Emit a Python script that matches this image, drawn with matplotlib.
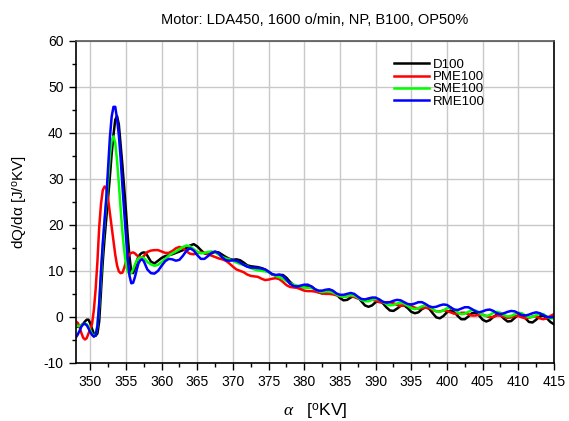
import numpy as np
import matplotlib
matplotlib.use("Agg")
import matplotlib.pyplot as plt
from matplotlib.ticker import MultipleLocator

plt.rcParams["font.family"] = ["Liberation Sans", "DejaVu Sans"]
plt.rcParams["axes.unicode_minus"] = False
plt.rcParams["mathtext.fontset"] = "custom"
plt.rcParams["mathtext.rm"] = "Liberation Sans"
plt.rcParams["mathtext.it"] = "Liberation Serif:italic"

# crank angle samples: fine steps through the combustion peak, coarser after
angle = np.concatenate([np.arange(348.0, 358.01, 0.25), np.arange(358.5, 415.01, 0.5)])

d100 = [
    -2.2, -2.1, -2.0, -1.8, -1.5, -1.0, -0.6, -0.6, -1.4, -2.6, -3.6, -4.1, -3.6, -1.0,
    5.5, 12.0, 17.0, 21.5, 26.0, 30.5, 35.5, 39.5, 42.8, 43.6, 41.8, 37.5, 33.0, 28.0,
    23.0, 17.5, 13.0, 9.8, 9.5, 10.6, 12.0, 13.1, 13.6, 13.9, 14.0, 13.9, 13.3,
    12.0, 11.6, 12.2, 12.8, 13.2, 13.4, 13.6, 13.9, 14.2, 14.5, 15.0, 15.5, 15.8, 15.3,
    14.5, 13.8, 13.6, 13.8, 14.1, 14.0, 13.5, 13.0, 12.6, 12.4, 12.5, 12.3, 11.8, 11.2,
    11.0, 10.9, 10.8, 10.6, 10.3, 9.8, 9.2, 9.0, 9.1, 9.1, 8.5, 7.6, 6.9, 6.5, 6.4,
    6.5, 6.7, 6.6, 6.0, 5.4, 5.1, 5.3, 5.7, 5.6, 4.9, 4.1, 3.6, 3.7, 4.2, 4.6, 4.3,
    3.4, 2.5, 2.2, 2.5, 3.2, 3.5, 3.0, 2.1, 1.4, 1.3, 1.8, 2.4, 2.5, 1.9, 1.1, 0.8,
    1.0, 1.7, 2.1, 1.8, 0.8, -0.1, -0.3, 0.2, 1.0, 1.4, 1.1, 0.2, -0.5, -0.5, 0.1, 0.8,
    0.9, 0.3, -0.6, -1.0, -0.7, 0.0, 0.5, 0.4, -0.4, -1.0, -0.9, -0.2, 0.4, 0.4, -0.3,
    -1.1, -1.2, -0.6, 0.1, 0.3, -0.3, -1.1, -1.6,
]
pme100 = [
    -1.0, -1.3, -2.2, -3.5, -4.5, -4.9, -4.6, -3.6, -2.6, -1.5, 1.5, 6.0, 12.0, 19.5,
    24.5, 27.5, 28.3, 28.0, 25.5, 22.5, 19.5, 16.5, 13.5, 11.2, 9.9, 9.5, 9.6, 10.6,
    12.0, 13.0, 13.6, 13.9, 14.0, 13.8, 13.4, 13.1, 12.9, 12.9, 13.2, 13.7, 14.1,
    14.4, 14.5, 14.5, 14.2, 13.9, 13.9, 14.3, 14.9, 15.2, 14.9, 14.2, 13.7, 13.6, 13.8,
    14.0, 13.9, 13.6, 13.3, 13.0, 12.7, 12.5, 12.2, 11.6, 10.9, 10.3, 10.0, 9.7, 9.2,
    8.9, 8.8, 8.7, 8.3, 8.0, 8.1, 8.3, 8.4, 8.2, 7.6, 6.9, 6.5, 6.4, 6.3, 6.0,
    5.7, 5.6, 5.6, 5.5, 5.3, 5.1, 5.0, 5.0, 4.9, 4.7, 4.5, 4.4, 4.5, 4.5, 4.3, 4.0,
    3.8, 3.8, 3.9, 3.8, 3.5, 3.2, 3.1, 3.2, 3.2, 3.0, 2.6, 2.4, 2.5, 2.6, 2.4, 2.0,
    1.8, 1.9, 2.0, 1.9, 1.5, 1.2, 1.2, 1.4, 1.3, 1.0, 0.7, 0.7, 0.9, 0.9, 0.6, 0.3,
    0.3, 0.5, 0.5, 0.2, -0.1, 0.0, 0.3, 0.3, 0.0, -0.2, -0.1, 0.2, 0.2, -0.1, -0.3,
    -0.2, 0.1, 0.1, -0.3, -0.5, -0.3, 0.2, 0.6,
]
sme100 = [
    -2.0, -2.0, -1.9, -1.8, -1.6, -1.5, -1.6, -2.1, -2.9, -3.7, -4.1, -3.9, -1.8, 2.5,
    9.0, 15.5, 20.5, 25.0, 30.0, 35.0, 38.3, 39.2, 37.8, 34.0, 29.0, 23.5, 18.5, 14.5,
    11.5, 9.8, 9.3, 9.5, 10.3, 11.3, 12.2, 12.7, 12.9, 12.9, 12.8, 12.4, 11.9,
    11.4, 11.1, 11.3, 11.9, 12.6, 13.3, 13.8, 14.2, 14.7, 15.2, 15.5, 15.3, 14.7, 14.1,
    13.8, 13.9, 14.1, 14.2, 14.0, 13.5, 13.0, 12.7, 12.5, 12.2, 11.8, 11.5, 11.3, 11.0,
    10.6, 10.3, 10.1, 10.0, 9.9, 9.7, 9.3, 8.9, 8.6, 8.3, 7.8, 7.3, 7.0, 6.8, 6.6,
    6.4, 6.3, 6.3, 6.0, 5.6, 5.4, 5.5, 5.5, 5.3, 4.9, 4.5, 4.4, 4.5, 4.7, 4.6, 4.2,
    3.7, 3.4, 3.4, 3.7, 3.9, 3.8, 3.3, 2.8, 2.5, 2.6, 2.9, 3.1, 2.9, 2.4, 1.9, 1.7,
    1.9, 2.3, 2.5, 2.3, 1.7, 1.2, 1.1, 1.4, 1.9, 2.0, 1.6, 1.0, 0.6, 0.7, 1.1, 1.5,
    1.4, 0.9, 0.4, 0.2, 0.4, 0.9, 1.1, 0.9, 0.4, 0.1, 0.2, 0.6, 0.9, 0.8, 0.3,
    -0.1, 0.0, 0.4, 0.7, 0.6, 0.1, -0.3, -0.3,
]
rme100 = [
    -4.4, -3.8, -3.0, -2.1, -1.6, -1.5, -1.8, -2.5, -3.3, -3.9, -4.3, -4.0, -2.0, 3.0,
    10.0, 16.0, 21.0, 26.0, 32.5, 39.0, 43.5, 45.6, 45.6, 43.0, 39.5, 34.5, 28.5, 23.0,
    17.5, 12.5, 8.9, 7.3, 7.4, 8.6, 10.2, 11.6, 12.3, 12.5, 12.1, 11.2, 10.3,
    9.5, 9.4, 10.0, 11.1, 12.1, 12.6, 12.5, 12.2, 12.4, 13.3, 14.4, 14.9, 14.4, 13.4,
    12.6, 12.6, 13.2, 13.9, 14.2, 13.8, 12.9, 12.3, 12.2, 12.3, 12.2, 11.8, 11.3, 10.9,
    10.7, 10.7, 10.6, 10.5, 10.3, 9.8, 9.3, 9.1, 9.2, 8.9, 8.1, 7.2, 6.7, 6.6, 6.8,
    7.0, 7.0, 6.6, 6.0, 5.7, 5.7, 5.9, 6.0, 5.7, 5.1, 4.8, 4.8, 5.0, 5.2, 5.0, 4.4,
    3.9, 3.8, 4.0, 4.2, 4.2, 3.8, 3.3, 3.1, 3.2, 3.5, 3.7, 3.6, 3.2, 2.8, 2.7, 2.9,
    3.2, 3.2, 2.8, 2.3, 2.1, 2.2, 2.5, 2.7, 2.6, 2.1, 1.6, 1.5, 1.8, 2.1, 2.1, 1.7,
    1.2, 1.0, 1.2, 1.5, 1.6, 1.3, 0.8, 0.6, 0.8, 1.1, 1.3, 1.2, 0.8, 0.4, 0.3,
    0.5, 0.8, 1.0, 0.8, 0.4, 0.0, -0.1, 0.0,
]

series = [
    ("D100", d100, "#000000"),
    ("PME100", pme100, "#ff0000"),
    ("SME100", sme100, "#00ff00"),
    ("RME100", rme100, "#0000ff"),
]

fig = plt.figure(figsize=(5.69, 4.21), dpi=100)
ax = fig.add_axes([0.1336, 0.1378, 0.84, 0.766])

for name, vals, col in series:
    ax.plot(angle, vals, color=col, lw=1.8, label=name)

ax.set_xlim(348, 415)
ax.set_ylim(-10, 60)
ax.xaxis.set_major_locator(MultipleLocator(5))
ax.xaxis.set_minor_locator(MultipleLocator(2.5))
ax.yaxis.set_major_locator(MultipleLocator(10))
ax.yaxis.set_minor_locator(MultipleLocator(5))
ax.tick_params(which="major", direction="out", length=5, width=1, labelsize=10, pad=4)
ax.tick_params(which="minor", direction="out", length=3, width=1)
ax.grid(True, which="major", color="#c8c8c8", lw=1)
ax.set_axisbelow(True)

for s in ax.spines.values():
    s.set_linewidth(1.2)
ax.spines["top"].set_color("#555555")

ax.set_title("Motor: LDA450, 1600 o/min, NP, B100, OP50%", fontsize=10.5, pad=12)
ax.set_xlabel(r"$\alpha$   [$^{\rm o}$KV]", fontsize=12.5, labelpad=9)
ax.set_ylabel(r"dQ/dα [J/$^{\rm o}$KV]", fontsize=11, labelpad=11)

ax.legend(loc="upper left", bbox_to_anchor=(0.655, 0.96), frameon=False, fontsize=9.5,
          handlelength=2.6, handletextpad=0.3, labelspacing=0.0, borderaxespad=0)

fig.savefig("out.png", dpi=100)
